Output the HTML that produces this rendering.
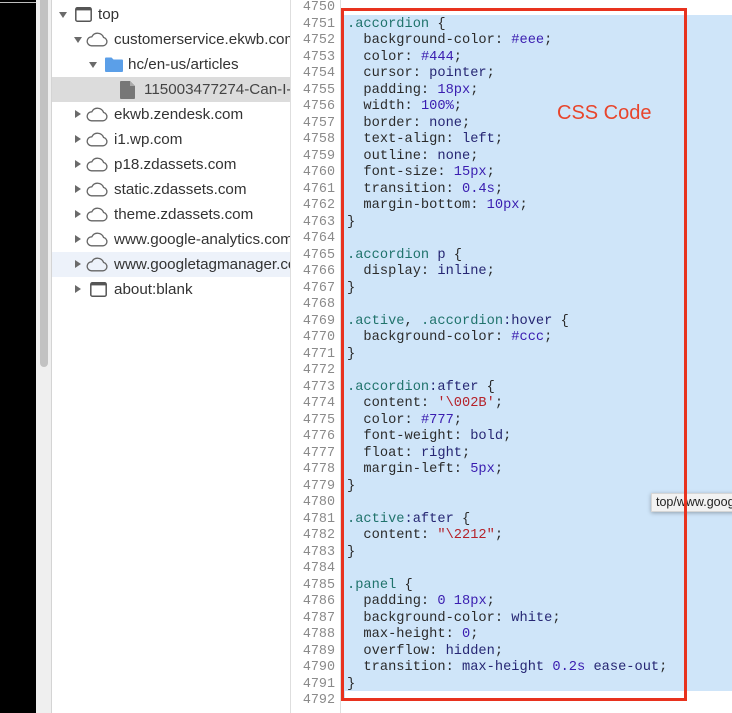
<!DOCTYPE html>
<html><head><meta charset="utf-8"><style>
*{margin:0;padding:0;box-sizing:border-box}
html,body{width:732px;height:713px;overflow:hidden;background:#fff;position:relative}
.abs{position:absolute}
#black{left:0;top:0;width:36px;height:713px;background:#000}
#track{left:36px;top:0;width:15px;height:713px;background:#efefef}
#thumb{left:40px;top:-5px;width:8px;height:372px;background:#c2c2c2;border-radius:4px}
#tb{left:51px;top:0;width:1px;height:713px;background:#d4d4d4}
#tree{left:52px;top:0;width:238px;height:713px;overflow:hidden;font-family:"Liberation Sans",sans-serif;font-size:15.2px;color:#333}
.row{position:absolute;left:0;width:238px;height:25px;line-height:26px;white-space:nowrap}
.row span.t{position:absolute;top:0}
.tri-d{position:absolute;width:0;height:0;border-left:4.5px solid transparent;border-right:4.5px solid transparent;border-top:6.5px solid #6a6a6a}
.tri-r{position:absolute;width:0;height:0;border-top:4.5px solid transparent;border-bottom:4.5px solid transparent;border-left:6.5px solid #6a6a6a}
.ic{position:absolute}
#gl{left:290px;top:0;width:1px;height:713px;background:#dedede}
#gr{left:340px;top:0;width:1px;height:713px;background:#dedede}
#nums{left:287px;top:0.25px;width:48px;font-family:"Liberation Mono",monospace;font-size:13.4px;line-height:16.5px;color:#8a8a8a;text-align:right;white-space:pre}
#hl{left:341px;top:14.75px;width:391px;height:676.5px;background:#cfe5f9}
#hl2{left:341px;top:691.25px;width:4px;height:9px;background:#cfe5f9}
#code{left:347px;top:0.25px;font-family:"Liberation Mono",monospace;font-size:13.7px;line-height:16.5px;color:#2b2b2b;white-space:pre}
.s{color:#20736c}.k{color:#262673}.n{color:#3a1db0}.q{color:#b5222a}
#box{left:341px;top:8px;width:346px;height:693px;border:3px solid #e8321e;z-index:5}
#lbl{left:557px;top:102px;font-family:"Liberation Sans",sans-serif;font-size:20px;color:#e8452c;z-index:4;white-space:nowrap}
#tip{left:651px;top:493px;width:100px;height:19px;background:#f2f2f2;border:1px solid #d6d6d6;box-shadow:0 1px 4px rgba(0,0,0,.3);font-family:"Liberation Sans",sans-serif;font-size:12.5px;line-height:17px;color:#222;padding-left:4px;white-space:nowrap;overflow:hidden;z-index:3}
</style></head><body>
<div class="abs" id="black"></div>
<div class="abs" style="left:0;top:2px;width:36px;height:1px;background:#bdbdbd"></div>
<div class="abs" id="track"></div>
<div class="abs" id="thumb"></div>
<div class="abs" id="tb"></div>

<div class="abs" id="tree">
 <div class="row" style="top:2px">
  <div class="tri-d" style="left:7px;top:10px"></div>
  <svg class="ic" style="left:23px;top:5px" width="17" height="15" viewBox="0 0 17 15"><rect x="0.8" y="0.8" width="15.4" height="13.4" rx="1.5" fill="none" stroke="#555" stroke-width="1.5"/><rect x="0.8" y="0.8" width="15.4" height="2.6" fill="#555"/></svg>
  <span class="t" style="left:46px">top</span>
 </div>
 <div class="row" style="top:27px">
  <div class="tri-d" style="left:22px;top:10px"></div>
  <svg class="ic" style="left:34px;top:5px" width="23" height="15" viewBox="0 0 23 15"><path d="M5.5 13.8 H17 A4.2 4.2 0 0 0 17.6 5.5 A6.4 6.4 0 0 0 5.8 4.8 A4.5 4.5 0 0 0 5.5 13.8 Z" fill="none" stroke="#666" stroke-width="1.3"/></svg>
  <span class="t" style="left:62px">customerservice.ekwb.com</span>
 </div>
 <div class="row" style="top:52px">
  <div class="tri-d" style="left:37px;top:10px"></div>
  <svg class="ic" style="left:53px;top:5px" width="18" height="15" viewBox="0 0 18 15"><path d="M0 1.5 Q0 0.5 1 0.5 H6.5 L8.5 2.5 H17 Q18 2.5 18 3.5 V14 Q18 15 17 15 H1 Q0 15 0 14 Z" fill="#5b9fe8"/></svg>
  <span class="t" style="left:76px">hc/en-us/articles</span>
 </div>
 <div class="row" style="top:77px;background:#dcdcdc">
  <svg class="ic" style="left:68px;top:4px" width="16" height="18" viewBox="0 0 16 18"><path d="M0 1 Q0 0 1 0 H10 L15 5 V17 Q15 18 14 18 H1 Q0 18 0 17 Z" fill="#777"/><path d="M10 0 V5 H15" fill="#aaa"/></svg>
  <span class="t" style="left:92px;color:#444">115003477274-Can-I-do-this</span>
 </div>
 <div class="row" style="top:102px">
  <div class="tri-r" style="left:23px;top:8px"></div>
  <svg class="ic" style="left:34px;top:5px" width="23" height="15" viewBox="0 0 23 15"><path d="M5.5 13.8 H17 A4.2 4.2 0 0 0 17.6 5.5 A6.4 6.4 0 0 0 5.8 4.8 A4.5 4.5 0 0 0 5.5 13.8 Z" fill="none" stroke="#666" stroke-width="1.3"/></svg>
  <span class="t" style="left:62px">ekwb.zendesk.com</span>
 </div>
 <div class="row" style="top:127px">
  <div class="tri-r" style="left:23px;top:8px"></div>
  <svg class="ic" style="left:34px;top:5px" width="23" height="15" viewBox="0 0 23 15"><path d="M5.5 13.8 H17 A4.2 4.2 0 0 0 17.6 5.5 A6.4 6.4 0 0 0 5.8 4.8 A4.5 4.5 0 0 0 5.5 13.8 Z" fill="none" stroke="#666" stroke-width="1.3"/></svg>
  <span class="t" style="left:62px">i1.wp.com</span>
 </div>
 <div class="row" style="top:152px">
  <div class="tri-r" style="left:23px;top:8px"></div>
  <svg class="ic" style="left:34px;top:5px" width="23" height="15" viewBox="0 0 23 15"><path d="M5.5 13.8 H17 A4.2 4.2 0 0 0 17.6 5.5 A6.4 6.4 0 0 0 5.8 4.8 A4.5 4.5 0 0 0 5.5 13.8 Z" fill="none" stroke="#666" stroke-width="1.3"/></svg>
  <span class="t" style="left:62px">p18.zdassets.com</span>
 </div>
 <div class="row" style="top:177px">
  <div class="tri-r" style="left:23px;top:8px"></div>
  <svg class="ic" style="left:34px;top:5px" width="23" height="15" viewBox="0 0 23 15"><path d="M5.5 13.8 H17 A4.2 4.2 0 0 0 17.6 5.5 A6.4 6.4 0 0 0 5.8 4.8 A4.5 4.5 0 0 0 5.5 13.8 Z" fill="none" stroke="#666" stroke-width="1.3"/></svg>
  <span class="t" style="left:62px">static.zdassets.com</span>
 </div>
 <div class="row" style="top:202px">
  <div class="tri-r" style="left:23px;top:8px"></div>
  <svg class="ic" style="left:34px;top:5px" width="23" height="15" viewBox="0 0 23 15"><path d="M5.5 13.8 H17 A4.2 4.2 0 0 0 17.6 5.5 A6.4 6.4 0 0 0 5.8 4.8 A4.5 4.5 0 0 0 5.5 13.8 Z" fill="none" stroke="#666" stroke-width="1.3"/></svg>
  <span class="t" style="left:62px">theme.zdassets.com</span>
 </div>
 <div class="row" style="top:227px">
  <div class="tri-r" style="left:23px;top:8px"></div>
  <svg class="ic" style="left:34px;top:5px" width="23" height="15" viewBox="0 0 23 15"><path d="M5.5 13.8 H17 A4.2 4.2 0 0 0 17.6 5.5 A6.4 6.4 0 0 0 5.8 4.8 A4.5 4.5 0 0 0 5.5 13.8 Z" fill="none" stroke="#666" stroke-width="1.3"/></svg>
  <span class="t" style="left:62px">www.google-analytics.com</span>
 </div>
 <div class="row" style="top:252px;background:#edf2fa">
  <div class="tri-r" style="left:23px;top:8px"></div>
  <svg class="ic" style="left:34px;top:5px" width="23" height="15" viewBox="0 0 23 15"><path d="M5.5 13.8 H17 A4.2 4.2 0 0 0 17.6 5.5 A6.4 6.4 0 0 0 5.8 4.8 A4.5 4.5 0 0 0 5.5 13.8 Z" fill="none" stroke="#666" stroke-width="1.3"/></svg>
  <span class="t" style="left:62px">www.googletagmanager.com</span>
 </div>
 <div class="row" style="top:277px">
  <div class="tri-r" style="left:23px;top:8px"></div>
  <svg class="ic" style="left:38px;top:5px" width="17" height="15" viewBox="0 0 17 15"><rect x="0.8" y="0.8" width="15.4" height="13.4" rx="1.5" fill="none" stroke="#555" stroke-width="1.5"/><rect x="0.8" y="0.8" width="15.4" height="2.6" fill="#555"/></svg>
  <span class="t" style="left:62px">about:blank</span>
 </div>
</div>

<div class="abs" id="gl"></div>
<div class="abs" id="gr"></div>
<div class="abs" id="nums">4750
4751
4752
4753
4754
4755
4756
4757
4758
4759
4760
4761
4762
4763
4764
4765
4766
4767
4768
4769
4770
4771
4772
4773
4774
4775
4776
4777
4778
4779
4780
4781
4782
4783
4784
4785
4786
4787
4788
4789
4790
4791
4792</div>
<div class="abs" id="hl"></div>
<div class="abs" id="hl2"></div>
<div class="abs" id="code">
<span class="s">.accordion</span> {
  background-color: <span class="n">#eee</span>;
  color: <span class="n">#444</span>;
  cursor: <span class="k">pointer</span>;
  padding: <span class="n">18px</span>;
  width: <span class="n">100%</span>;
  border: <span class="k">none</span>;
  text-align: <span class="k">left</span>;
  outline: <span class="k">none</span>;
  font-size: <span class="n">15px</span>;
  transition: <span class="n">0.4s</span>;
  margin-bottom: <span class="n">10px</span>;
}

<span class="s">.accordion</span> <span class="k">p</span> {
  display: <span class="k">inline</span>;
}

<span class="s">.active</span>, <span class="s">.accordion</span><span class="k">:hover</span> {
  background-color: <span class="n">#ccc</span>;
}

<span class="s">.accordion</span><span class="k">:after</span> {
  content: <span class="q">'\002B'</span>;
  color: <span class="n">#777</span>;
  font-weight: <span class="k">bold</span>;
  float: <span class="k">right</span>;
  margin-left: <span class="n">5px</span>;
}

<span class="s">.active</span><span class="k">:after</span> {
  content: <span class="q">"\2212"</span>;
}

<span class="s">.panel</span> {
  padding: <span class="n">0</span> <span class="n">18px</span>;
  background-color: <span class="k">white</span>;
  max-height: <span class="n">0</span>;
  overflow: <span class="k">hidden</span>;
  transition: <span class="k">max-height</span> <span class="n">0.2s</span> <span class="k">ease-out</span>;
}
</div>
<div class="abs" id="tip">top/www.googletagmanager.com</div>
<div class="abs" id="lbl">CSS Code</div>
<div class="abs" id="box"></div>
</body></html>
